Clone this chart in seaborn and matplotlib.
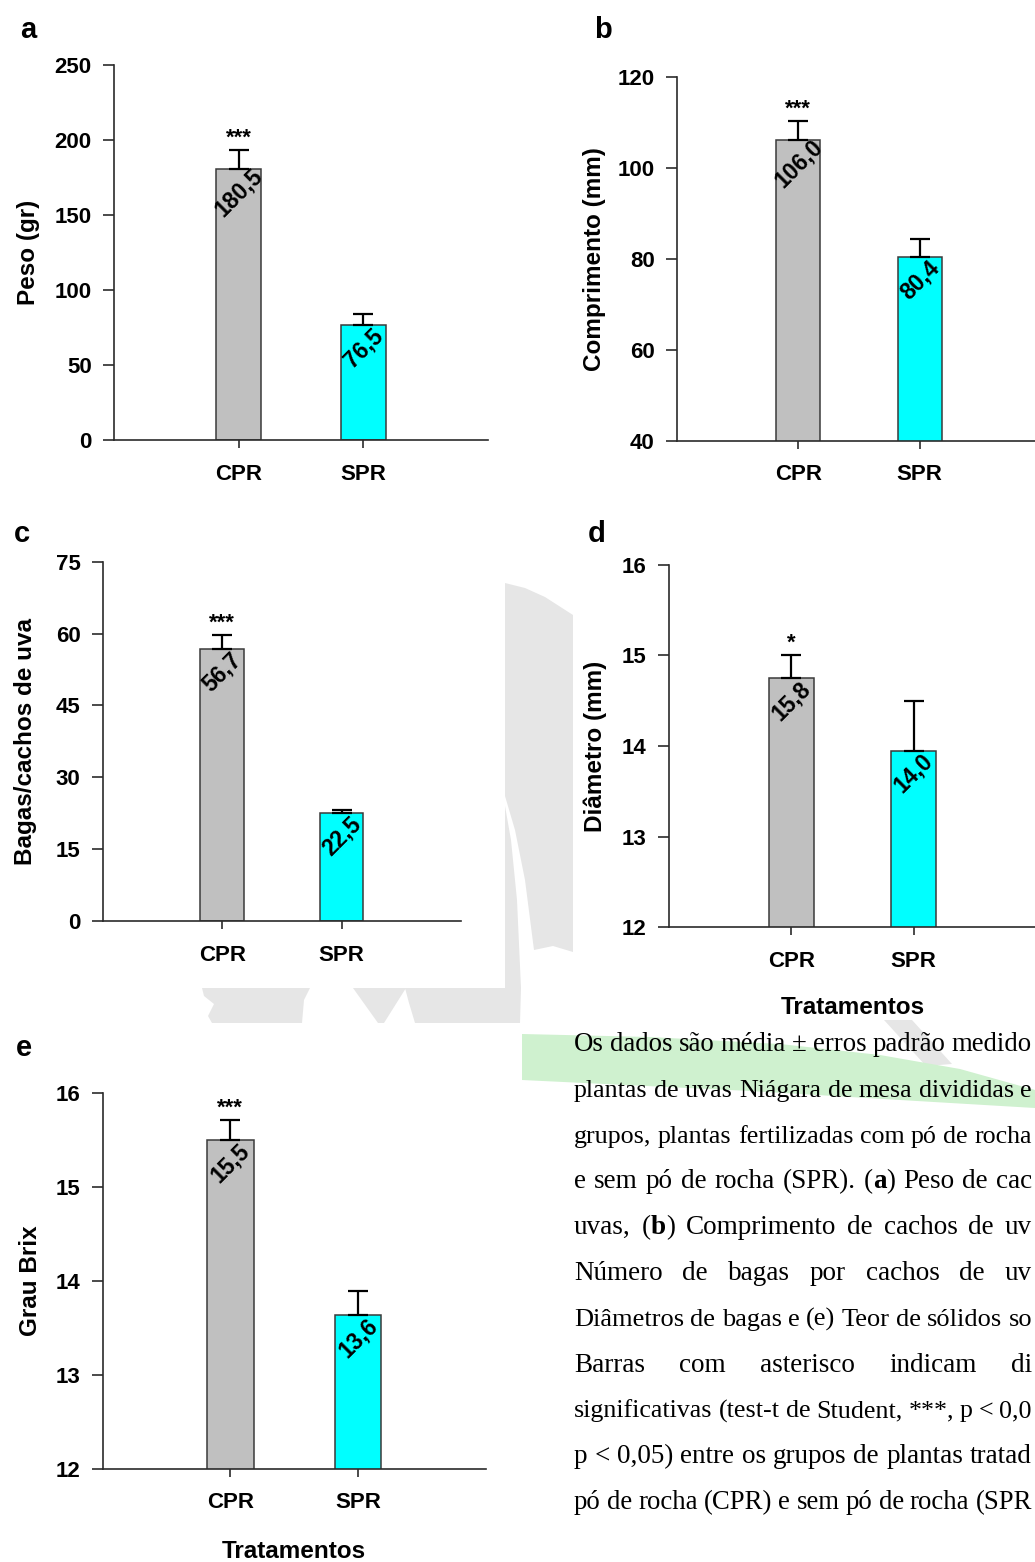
import numpy as np
import pandas as pd
import matplotlib
matplotlib.use("Agg")
import matplotlib.pyplot as plt
from matplotlib.patches import Polygon
import seaborn as sns

W, H = 1035, 1562

# ---------------- data ----------------
groups = ["CPR", "SPR"]

peso_mean = [180.5, 76.5]
peso_err = [13.0, 7.7]
peso_labels = ["180,5", "76,5"]

comp_mean = [106.0, 80.4]
comp_err = [4.3, 4.0]
comp_labels = ["106,0", "80,4"]

bagas_mean = [56.7, 22.5]
bagas_err = [3.1, 0.6]
bagas_labels = ["56,7", "22,5"]

diam_mean = [14.75, 13.95]
diam_err = [0.26, 0.55]
diam_labels = ["15,8", "14,0"]

brix_mean = [15.5, 13.64]
brix_err = [0.21, 0.25]
brix_labels = ["15,5", "13,6"]

signif = {"a": "***", "b": "***", "c": "***", "d": "*", "e": "***"}

# visible part of the caption (page is cropped at the right edge); §x§ = bold
caption_lines = [
    "Os dados são média ± erros padrão medido",
    "plantas de uvas Niágara de mesa divididas e",
    "grupos, plantas fertilizadas com pó de rocha",
    "e sem pó de rocha (SPR). (§a§) Peso de cac",
    "uvas, (§b§) Comprimento de cachos de uv",
    "Número de bagas por cachos de uv",
    "Diâmetros de bagas e (e) Teor de sólidos so",
    "Barras com asterisco indicam di",
    "significativas (test-t de Student, ***, p < 0,0",
    "p < 0,05) entre os grupos de plantas tratad",
    "pó de rocha (CPR) e sem pó de rocha (SPR",
]

palette = {"CPR": "#C0C0C0", "SPR": "#00FFFF"}

# ---------------- style ----------------
sns.set_theme(style="ticks")
plt.rcParams["font.family"] = ["Liberation Sans", "DejaVu Sans"]

fig = plt.figure(figsize=(W / 100, H / 100), dpi=100)
fig.patch.set_facecolor("white")


def px2fig(x, y):
    return x / W, 1 - y / H


# ---------------- watermark shapes (background) ----------------
gray_wm = "#E6E6E6"
green_wm = "#CFF1CF"
wm_polys = [
    ([(505, 583), (525, 588), (545, 597), (573, 615), (573, 952), (553, 946),
      (534, 950), (525, 880), (515, 830), (505, 796)], gray_wm),
    ([(505, 806), (511, 840), (517, 900), (521, 988), (520, 1023), (415, 1023),
      (409, 1003), (405, 988), (505, 988)], gray_wm),
    ([(353, 988), (406, 988), (384, 1023), (378, 1023)], gray_wm),
    ([(202, 988), (310, 988), (304, 1000), (302, 1023), (212, 1023), (208, 1016),
      (214, 1004), (204, 996)], gray_wm),
    ([(884, 1020), (912, 1020), (952, 1064), (926, 1066)], gray_wm),
    ([(522, 1034), (650, 1037), (780, 1044), (880, 1055), (960, 1069),
      (1035, 1090), (1035, 1108), (900, 1100), (750, 1091), (522, 1080)], green_wm),
]
for pts, col in wm_polys:
    fpts = [px2fig(x, y) for x, y in pts]
    fig.patches.append(Polygon(fpts, closed=True, transform=fig.transFigure,
                               facecolor=col, edgecolor="none", zorder=0))


# ---------------- panels ----------------
def draw_panel(rect, means, errs, labels, stars, ylabel, ylim, yticks,
               letter, letter_xy, ylab_x, xlabel=None):
    l, t, r, b = rect
    ax = fig.add_axes([l / W, 1 - b / H, (r - l) / W, (b - t) / H])
    ax.set_facecolor("white")
    df = pd.DataFrame({"Tratamento": groups, "Valor": means})
    sns.barplot(data=df, x="Tratamento", y="Valor", hue="Tratamento",
                palette=palette, saturation=1, width=0.365,
                edgecolor="#3a3a3a", linewidth=1.1, legend=False,
                errorbar=None, ax=ax, zorder=2)
    ax.errorbar(x=[0, 1], y=means, yerr=[[0, 0], errs], fmt="none",
                ecolor="black", elinewidth=1.6, capsize=7.2, capthick=1.6,
                zorder=3)
    for i, lab in enumerate(labels):
        ax.annotate(lab, xy=(i, means[i]), xytext=(0, -23 * 0.72),
                    textcoords="offset points", rotation=45, ha="center",
                    va="center", rotation_mode="anchor", fontsize=16.5,
                    fontweight="bold", color="black", zorder=4)
    if stars:
        ax.annotate(stars, xy=(0, means[0] + errs[0]), xytext=(0, 6 * 0.72),
                    textcoords="offset points", ha="center", va="baseline",
                    fontsize=16, fontweight="bold", color="black")
    ax.set_xlim(-1, 2)
    ax.set_ylim(*ylim)
    ax.set_yticks(yticks)
    sns.despine(ax=ax)
    for s in ["left", "bottom"]:
        ax.spines[s].set_linewidth(1.2)
        ax.spines[s].set_color("#2b2b2b")
    ax.tick_params(axis="y", direction="out", length=8, width=1.2, pad=8,
                   labelsize=16, color="#2b2b2b", labelcolor="black")
    ax.tick_params(axis="x", direction="out", length=6, width=1.2, pad=11,
                   labelsize=16, color="#2b2b2b", labelcolor="black")
    for lab in ax.get_xticklabels() + ax.get_yticklabels():
        lab.set_fontweight("bold")
    ax.set_ylabel(ylabel, fontsize=17.5, fontweight="bold", color="black")
    ax.yaxis.set_label_coords(ylab_x, 0.5)
    if xlabel:
        ax.set_xlabel(xlabel, fontsize=17.5, fontweight="bold", color="black")
        ax.xaxis.set_label_coords(0.5, -0.19)
    else:
        ax.set_xlabel("")
    lx, ly = letter_xy
    fx, fy = px2fig(lx, ly)
    fig.text(fx, fy, letter, fontsize=21, fontweight="bold", ha="left",
             va="baseline", color="black")
    return ax


draw_panel((114, 65, 488, 440), peso_mean, peso_err, peso_labels, signif["a"],
           "Peso (gr)", (0, 250), [0, 50, 100, 150, 200, 250], "a",
           (20, 38), -0.198)
draw_panel((677, 76.7, 1041, 440.7), comp_mean, comp_err, comp_labels,
           signif["b"], "Comprimento (mm)", (40, 120), [40, 60, 80, 100, 120],
           "b", (594, 38), -0.196)
draw_panel((102.7, 561.7, 461, 921), bagas_mean, bagas_err, bagas_labels,
           signif["c"], "Bagas/cachos de uva", (0, 75), [0, 15, 30, 45, 60, 75],
           "c", (14, 542), -0.184)
draw_panel((668.8, 564.9, 1036, 927.2), diam_mean, diam_err, diam_labels,
           signif["d"], "Diâmetro (mm)", (12, 16), [12, 13, 14, 15, 16],
           "d", (588, 542), -0.168, xlabel="Tratamentos")
draw_panel((102.8, 1092.8, 485.6, 1468.7), brix_mean, brix_err, brix_labels,
           signif["e"], "Grau Brix", (12, 16), [12, 13, 14, 15, 16],
           "e", (16, 1056), -0.160, xlabel="Tratamentos")

# ---------------- caption (justified serif text, cropped page) ----------------
renderer = fig.canvas.get_renderer()


def parse_word(word):
    segs = []
    parts = word.split("§")
    for k, p in enumerate(parts):
        if p:
            segs.append((p, k % 2 == 1))
    return segs


x0, x_right = 574, 1032
min_gap = 6.0
for i, line in enumerate(caption_lines):
    yb = 1051 + 45.8 * i
    fy = 1 - yb / H
    words = []
    for word in line.split(" "):
        segs = []
        for seg, bold in parse_word(word):
            t = fig.text(0, fy, seg, fontsize=19.5,
                         family=["Liberation Serif", "DejaVu Serif"],
                         fontweight="bold" if bold else "normal",
                         ha="left", va="baseline", color="black")
            segs.append(t)
        words.append(segs)
    n_gaps = max(len(words) - 1, 1)
    fs = 19.5
    while True:
        widths = [[t.get_window_extent(renderer).width for t in segs] for segs in words]
        total = sum(sum(ws) for ws in widths)
        gap = (x_right - x0 - total) / n_gaps
        if gap >= min_gap or fs <= 17:
            break
        fs -= 0.25
        for segs in words:
            for t in segs:
                t.set_fontsize(fs)
    x = x0
    for segs, ws in zip(words, widths):
        for t, w in zip(segs, ws):
            t.set_x(x / W)
            x += w
        x += gap

fig.savefig("out.png", dpi=100, facecolor="white")
